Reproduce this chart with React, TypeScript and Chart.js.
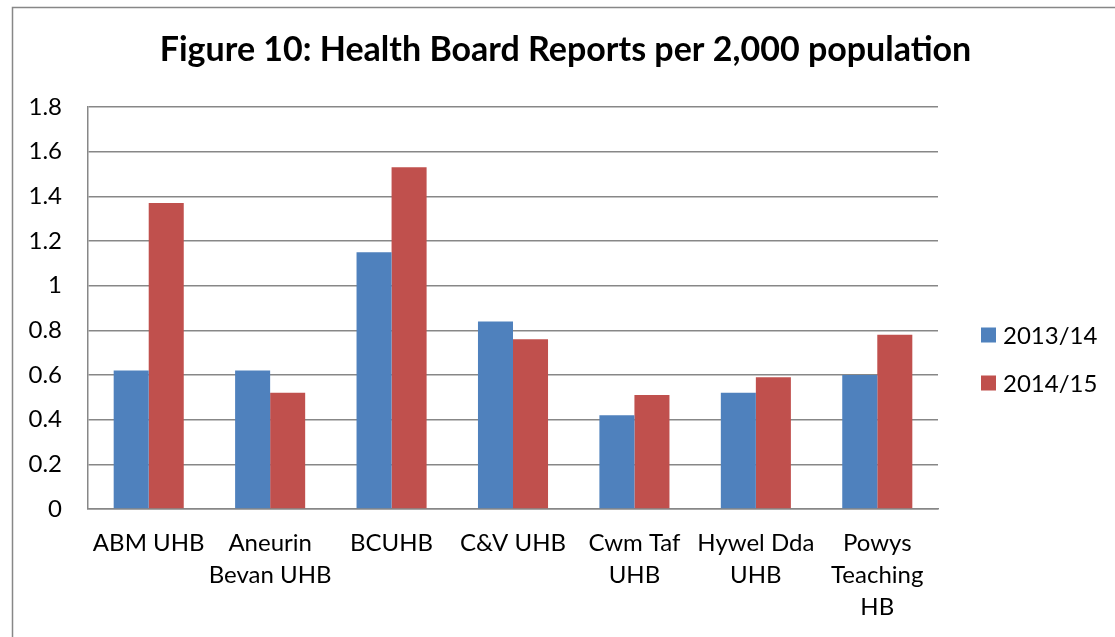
import React, { useEffect, useRef } from "react";
import { Chart, registerables } from "chart.js";

Chart.register(...registerables);

const categories: string[][] = [
  ["ABM UHB"],
  ["Aneurin", "Bevan UHB"],
  ["BCUHB"],
  ["C&V UHB"],
  ["Cwm Taf", "UHB"],
  ["Hywel Dda", "UHB"],
  ["Powys", "Teaching", "HB"],
];
const series2013 = [0.62, 0.62, 1.15, 0.84, 0.42, 0.52, 0.6];
const series2014 = [1.37, 0.52, 1.53, 0.76, 0.51, 0.59, 0.78];
const seriesLabels = ["2013/14", "2014/15"];
const seriesColors = ["#4F81BD", "#C0504D"];
const titleText = "Figure 10: Health Board Reports per 2,000 population";
const yMin = 0;
const yMax = 1.8;
const yStep = 0.2;

const FONT = "Lato, 'Open Sans', sans-serif";
const GRID = "#878787";

const decorPlugin = {
  id: "decor",
  afterDraw(chart: any) {
    const ctx = chart.ctx as CanvasRenderingContext2D;
    const area = chart.chartArea;
    ctx.save();
    // outer frame
    ctx.strokeStyle = GRID;
    ctx.lineWidth = 1.5;
    ctx.beginPath();
    ctx.moveTo(12.5, chart.height);
    ctx.lineTo(12.5, 7.5);
    ctx.lineTo(chart.width, 7.5);
    ctx.stroke();
    // title
    ctx.fillStyle = "#000";
    ctx.font = `bold 34px ${FONT}`;
    ctx.textAlign = "center";
    ctx.textBaseline = "alphabetic";
    ctx.fillText(titleText, 565.5, 61);
    // legend
    const datasets = chart.data.datasets;
    ctx.font = `24px ${FONT}`;
    ctx.textAlign = "left";
    ctx.textBaseline = "middle";
    datasets.forEach((ds: any, i: number) => {
      const cy = 335 + i * 48;
      const bx = area.right + 43;
      ctx.fillStyle = ds.backgroundColor;
      ctx.fillRect(bx, cy - 7.5, 15, 15);
      ctx.fillStyle = "#000";
      ctx.fillText(ds.label, bx + 22, cy + 1);
    });
    ctx.restore();
  },
};

export default function App() {
  const canvasRef = useRef<HTMLCanvasElement | null>(null);

  useEffect(() => {
    if (!canvasRef.current) return;
    const chart = new Chart(canvasRef.current, {
      type: "bar",
      data: {
        labels: categories,
        datasets: [
          {
            label: seriesLabels[0],
            data: series2013,
            backgroundColor: seriesColors[0],
            borderWidth: 0,
          },
          {
            label: seriesLabels[1],
            data: series2014,
            backgroundColor: seriesColors[1],
            borderWidth: 0,
          },
        ],
      },
      options: {
        responsive: false,
        animation: false,
        layout: { padding: { top: 107, right: 177, bottom: 0, left: 0 } },
        datasets: {
          bar: { categoryPercentage: 0.577, barPercentage: 1 },
        },
        plugins: {
          legend: { display: false },
          title: { display: false },
          tooltip: { enabled: false },
        },
        scales: {
          x: {
            grid: { display: false, drawTicks: false },
            border: { display: true, color: GRID, width: 1.5 },
            ticks: {
              color: "#000",
              font: { family: FONT, size: 24, lineHeight: 1.34 },
              padding: 18,
              maxRotation: 0,
              autoSkip: false,
            },
            afterFit(scale: any) {
              scale.height = 128;
            },
          },
          y: {
            min: yMin,
            max: yMax,
            grid: { color: GRID, lineWidth: 1.5, drawTicks: false },
            border: { display: true, color: GRID, width: 1.5 },
            ticks: {
              stepSize: yStep,
              color: "#000",
              font: { family: FONT, size: 24 },
              padding: 26,
              callback: (v: any) => String(Math.round(Number(v) * 10) / 10),
            },
            afterFit(scale: any) {
              scale.width = 88;
            },
          },
        },
      },
      plugins: [decorPlugin],
    });
    return () => chart.destroy();
  }, []);

  return (
    <div style={{ position: "fixed", left: 0, top: 0, width: 1115, height: 637, background: "#fff", overflow: "hidden" }}>
      <canvas ref={canvasRef} width={1115} height={637} style={{ display: "block" }} />
    </div>
  );
}
